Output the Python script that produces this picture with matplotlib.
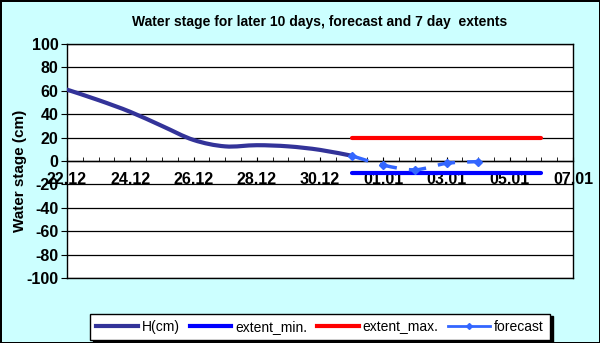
import numpy as np
import matplotlib.pyplot as plt
from matplotlib.path import Path
from matplotlib.patches import PathPatch
from matplotlib.lines import Line2D

plt.rcParams['font.family'] = ['Liberation Sans', 'DejaVu Sans']
plt.rcParams['axes.unicode_minus'] = False

# days counted from 22.12
h_days = [0, 1, 2, 3, 4, 5, 6, 7, 8, 9]
h_cm = [61, 52, 42, 30, 18, 12.5, 13.5, 12.5, 9.5, 4.5]

fc_days = [9, 10, 11, 12, 13]
fc_cm = [4.5, -3.5, -7.5, -2, -0.5]

ext_days = [9, 15]
ext_min = [-10, -10]
ext_max = [20, 20]

tick_days = [0, 2, 4, 6, 8, 10, 12, 14, 16]
tick_labels = ['22.12', '24.12', '26.12', '28.12', '30.12', '01.01', '03.01', '05.01', '07.01']

bg = '#ccffff'


def smooth_path(x, y):
    # excel-like smoothed line: bezier segments through the points
    p = np.column_stack([x, y]).astype(float)
    pts = np.vstack([p[0], p, p[-1]])
    verts = [p[0]]
    codes = [Path.MOVETO]
    for i in range(1, len(pts) - 2):
        c1 = pts[i] + (pts[i + 1] - pts[i - 1]) / 6
        c2 = pts[i + 1] - (pts[i + 2] - pts[i]) / 6
        verts += [c1, c2, pts[i + 1]]
        codes += [Path.CURVE4] * 3
    return Path(verts, codes)


fig = plt.figure(figsize=(6, 3.43), dpi=100, facecolor=bg)
fig.patch.set_edgecolor('black')
fig.patch.set_linewidth(2)
ax = fig.add_axes([67 / 600, 1 - 278 / 343, 506 / 600, 234 / 343])
ax.set_facecolor('white')

ax.add_patch(PathPatch(smooth_path(h_days, h_cm), fill=False, edgecolor='#333399',
                       lw=3, capstyle='round', zorder=4))
ax.plot(ext_days, ext_min, color='#0000ff', lw=3, solid_capstyle='round', zorder=4)
ax.plot(ext_days, ext_max, color='#ff0000', lw=3, solid_capstyle='round', zorder=4)
ax.add_patch(PathPatch(smooth_path(fc_days, fc_cm), fill=False, edgecolor='#3366ff',
                       lw=2.5, linestyle=(0, (5, 3.5)), zorder=5))
ax.plot(fc_days, fc_cm, ls='none', marker='D', ms=4, color='#3366ff', zorder=6)

ax.set_xlim(0, 16)
ax.set_ylim(-100, 100)
ax.set_yticks(np.arange(-100, 101, 20))
ax.yaxis.grid(True, color='black', lw=0.9)
ax.axhline(-100, color='black', lw=1, clip_on=False)
ax.set_axisbelow(True)
ax.set_xticks(tick_days)
ax.set_xticklabels(tick_labels)
ax.set_xticks(np.arange(0, 16.01, 0.5), minor=True)
ax.spines['bottom'].set_position(('data', 0))
for s in ax.spines.values():
    s.set_color('black')
    s.set_linewidth(1)
ax.tick_params(axis='x', which='both', direction='in', length=3, pad=8,
               labelsize=11.5, colors='black')
ax.tick_params(axis='y', direction='out', length=4, pad=2, labelsize=11.5)
for lab in ax.get_xticklabels() + ax.get_yticklabels():
    lab.set_fontweight('bold')

ax.set_ylabel('Water stage (cm)', fontsize=11, fontweight='bold')
ax.yaxis.set_label_coords(-0.08, 0.457)
fig.text(320 / 600, 1 - 22 / 343, 'Water stage for later 10 days, forecast and 7 day  extents',
         ha='center', va='center', fontsize=10, fontweight='bold')

handles = [
    Line2D([], [], color='#333399', lw=3),
    Line2D([], [], color='#0000ff', lw=3),
    Line2D([], [], color='#ff0000', lw=3),
    Line2D([], [], color='#3366ff', lw=2, marker='D', ms=3),
]
names = ['H(cm)', 'extent_min.', 'extent_max.', 'forecast']
leg = fig.legend(handles, names, loc='lower left', ncol=4, mode='expand',
                 bbox_to_anchor=(90 / 600, 3 / 343, 460 / 600, 25 / 343),
                 fontsize=10, frameon=True, fancybox=False, handlelength=3,
                 handletextpad=0.3, borderaxespad=0, borderpad=0.45,
                 shadow={'color': 'black', 'alpha': 1, 'ox': 2, 'oy': -2})
leg.get_frame().set_edgecolor('black')
leg.get_frame().set_linewidth(1)

fig.savefig('out.png', dpi=100, facecolor=bg, edgecolor='black')
